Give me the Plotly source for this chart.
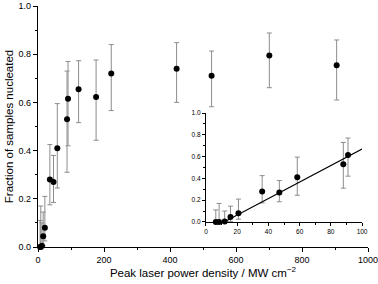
import plotly.graph_objects as go

# data
power = [6.3, 8.4, 12, 15.7, 20.8, 36, 47, 58.5, 88, 91, 123, 176, 222, 420, 526, 701, 905]
fraction = [0.0, 0.0, 0.005, 0.045, 0.08, 0.28, 0.27, 0.41, 0.53, 0.615, 0.655, 0.622, 0.72, 0.74, 0.711, 0.795, 0.754]
err_top = [0.11, 0.17, 0.10, 0.145, 0.21, 0.425, 0.38, 0.595, 0.73, 0.77, 0.773, 0.776, 0.84, 0.848, 0.813, 0.888, 0.859]
err_bottom = [0.0, 0.0, 0.0, 0.005, 0.025, 0.175, 0.185, 0.245, 0.31, 0.42, 0.516, 0.443, 0.566, 0.60, 0.582, 0.661, 0.61]

inset_max = 100
fit_x = [11.6, 100]
fit_y = [0.0, 0.67]

plus = [t - f for t, f in zip(err_top, fraction)]
minus = [f - b for f, b in zip(fraction, err_bottom)]

ins = [i for i, p in enumerate(power) if p <= inset_max]

err_style = dict(type="data", symmetric=False, color="#8c8c8c", thickness=1, width=2.5)
marker = dict(color="black", size=6)

fig = go.Figure()
fig.add_trace(go.Scatter(
    x=power, y=fraction, mode="markers", marker=marker,
    error_y=dict(array=plus, arrayminus=minus, **err_style),
    xaxis="x", yaxis="y", showlegend=False, cliponaxis=False))
fig.add_trace(go.Scatter(
    x=[power[i] for i in ins], y=[fraction[i] for i in ins], mode="markers", marker=marker,
    error_y=dict(array=[plus[i] for i in ins], arrayminus=[minus[i] for i in ins], **err_style),
    xaxis="x2", yaxis="y2", showlegend=False, cliponaxis=False))
fig.add_trace(go.Scatter(
    x=fit_x, y=fit_y, mode="lines", line=dict(color="black", width=1.2),
    xaxis="x2", yaxis="y2", showlegend=False))

font = "Liberation Sans, Arial, sans-serif"
axis_common = dict(showline=True, linecolor="black", linewidth=1.2, ticks="outside",
                   tickcolor="black", showgrid=False, zeroline=False, mirror=False,
                   ticklabeloverflow="allow")

fig.update_layout(
    width=378, height=284,
    margin=dict(l=38, r=10, t=6, b=37, autoexpand=False),
    paper_bgcolor="white", plot_bgcolor="white",
    font=dict(family=font, color="black"),
    xaxis=dict(range=[0, 1000], tickvals=[0, 200, 400, 600, 800, 1000], ticklen=4,
               tickfont=dict(size=9),
               minor=dict(ticks="outside", ticklen=2, dtick=100, tickcolor="black"),
               title=dict(text="Peak laser power density / MW cm<sup>−2</sup>", font=dict(size=11.5), standoff=4),
               **axis_common),
    yaxis=dict(range=[0, 1], tickvals=[0, 0.2, 0.4, 0.6, 0.8, 1.0], tickformat=".1f", ticklen=4,
               tickfont=dict(size=9),
               minor=dict(ticks="outside", ticklen=2, dtick=0.1, tickcolor="black"),
               title=dict(text="Fraction of samples nucleated", font=dict(size=11.5), standoff=2),
               **axis_common),
    xaxis2=dict(domain=[0.509, 0.982], anchor="y2", range=[0, 100],
                tickvals=[0, 20, 40, 60, 80, 100], ticklen=3, tickfont=dict(size=6.5),
                minor=dict(ticks="outside", ticklen=2, dtick=10, tickcolor="black"),
                **axis_common),
    yaxis2=dict(domain=[0.104, 0.556], anchor="x2", range=[0, 1],
                tickvals=[0, 0.2, 0.4, 0.6, 0.8, 1.0], tickformat=".1f", ticklen=3,
                tickfont=dict(size=6.5),
                minor=dict(ticks="outside", ticklen=2, dtick=0.1, tickcolor="black"),
                **axis_common),
)

fig.write_html("out.html", config={"displayModeBar": False},
               post_script="document.body.style.margin='0';")
